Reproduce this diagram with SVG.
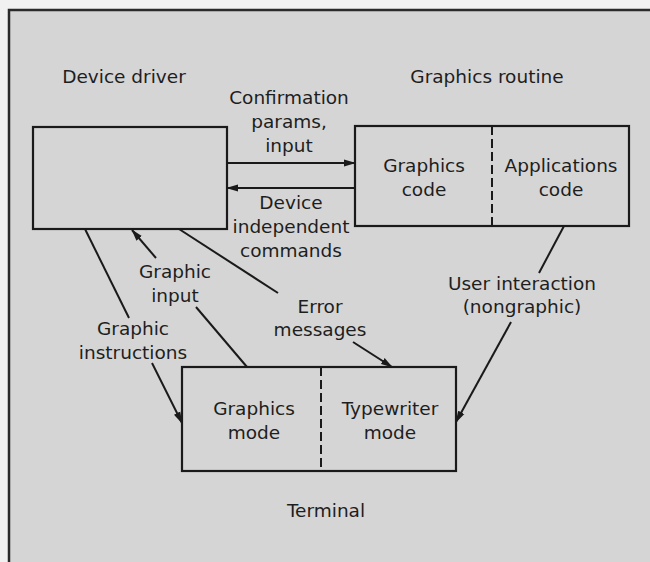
<svg xmlns="http://www.w3.org/2000/svg" width="650" height="562" viewBox="0 0 650 562">
<defs>
<marker id="ah" markerWidth="12" markerHeight="8" refX="11" refY="4" orient="auto" markerUnits="userSpaceOnUse">
<path d="M0,0.5 L12,4 L0,7.5 Z" fill="#1a1a1a"/>
</marker>
<style>
text{font-family:"DejaVu Sans","Liberation Sans",sans-serif;font-size:18.5px;fill:#1e1e1e;text-anchor:middle}
.box{fill:none;stroke:#1a1a1a;stroke-width:2.2}
.dash{stroke:#1a1a1a;stroke-width:2;stroke-dasharray:9,4}
.ln{fill:none;stroke:#1a1a1a;stroke-width:2}
.arr{fill:none;stroke:#1a1a1a;stroke-width:2;marker-end:url(#ah)}
</style>
</defs>
<rect x="0" y="0" width="650" height="562" fill="#f1f1f1"/>
<rect x="9" y="10" width="660" height="570" fill="#d5d5d5" stroke="#2a2a2a" stroke-width="2.5"/>

<g id="device-driver">
<rect class="box" x="33" y="127" width="194" height="102"/>
<text x="124" y="83">Device driver</text>
</g>

<g id="graphics-routine">
<rect class="box" x="355" y="126" width="274" height="100"/>
<line class="dash" x1="492" y1="126" x2="492" y2="226"/>
<text x="487" y="83">Graphics routine</text>
<text x="424" y="172">Graphics</text>
<text x="424" y="196">code</text>
<text x="561" y="172">Applications</text>
<text x="561" y="196">code</text>
</g>

<g id="terminal">
<rect class="box" x="182" y="367" width="274" height="104"/>
<line class="dash" x1="321" y1="367" x2="321" y2="471"/>
<text x="254" y="415">Graphics</text>
<text x="254" y="439">mode</text>
<text x="390" y="415">Typewriter</text>
<text x="390" y="439">mode</text>
<text x="326" y="517">Terminal</text>
</g>

<g id="connectors">
<line class="arr" x1="227" y1="163" x2="355" y2="163"/>
<line class="arr" x1="355" y1="188" x2="227" y2="188"/>
<line class="ln" x1="85" y1="229" x2="129" y2="318"/>
<line class="arr" x1="152" y1="363" x2="182" y2="423"/>
<line class="ln" x1="247" y1="367" x2="196" y2="307"/>
<line class="arr" x1="156" y1="258" x2="132" y2="230"/>
<line class="ln" x1="179" y1="229" x2="278" y2="293"/>
<line class="arr" x1="353" y1="342" x2="392" y2="367"/>
<line class="ln" x1="564" y1="226" x2="539" y2="273"/>
<line class="arr" x1="511" y1="322" x2="456" y2="422"/>
<text x="289" y="104">Confirmation</text>
<text x="289" y="128">params,</text>
<text x="289" y="152">input</text>
<text x="291" y="209">Device</text>
<text x="291" y="233">independent</text>
<text x="291" y="257">commands</text>
<text x="175" y="278">Graphic</text>
<text x="175" y="302">input</text>
<text x="320" y="313">Error</text>
<text x="320" y="336">messages</text>
<text x="522" y="290">User interaction</text>
<text x="522" y="313">(nongraphic)</text>
<text x="133" y="335">Graphic</text>
<text x="133" y="359">instructions</text>
</g>
</svg>
